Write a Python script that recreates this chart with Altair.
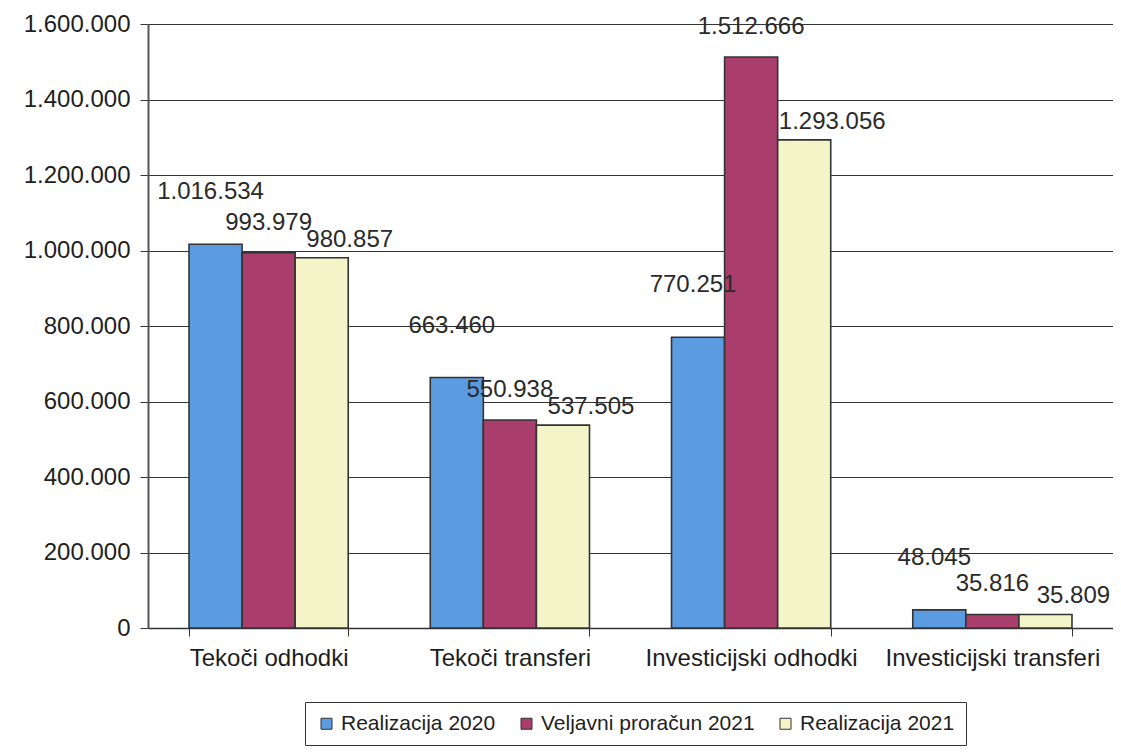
import altair as alt
import pandas as pd

categories = ["Tekoči odhodki", "Tekoči transferi", "Investicijski odhodki", "Investicijski transferi"]
series = ["Realizacija 2020", "Veljavni proračun 2021", "Realizacija 2021"]
realizacija_2020 = [1016534, 663460, 770251, 48045]
veljavni_2021 = [993979, 550938, 1512666, 35816]
realizacija_2021 = [980857, 537505, 1293056, 35809]
y_ticks = [0, 200000, 400000, 600000, 800000, 1000000, 1200000, 1400000, 1600000]

rows = []
for i, c in enumerate(categories):
    for s, vals in zip(series, [realizacija_2020, veljavni_2021, realizacija_2021]):
        rows.append({"kategorija": c, "serija": s, "vrednost": vals[i]})
df = pd.DataFrame(rows)

colors = ["#5b9be0", "#a93d6b", "#f4f4c9"]
FONT = "Liberation Sans"
TXT = "#1e1e1e"
fmt_axis = "replace(replace(format(datum.value, ','), ',', '.'), ',', '.')"
fmt_lbl = "replace(replace(format(datum.vrednost, ','), ',', '.'), ',', '.')"

x_enc = alt.X(
    "kategorija:N", sort=categories, title=None,
    scale=alt.Scale(paddingInner=0.34, paddingOuter=0.17),
    axis=alt.Axis(labelAngle=0, labelFont=FONT, labelFontSize=24, labelColor=TXT,
                  labelPadding=10, tickBand="extent", tickSize=8, tickColor="#333333",
                  domainColor="#333333", domainWidth=1.5, grid=False, labelLimit=400,
                  labelOverlap=False),
)
xoff_enc = alt.XOffset("serija:N", sort=series,
                       scale=alt.Scale(domain=series, paddingInner=0, paddingOuter=0))
y_enc = alt.Y(
    "vrednost:Q", title=None,
    scale=alt.Scale(domain=[0, 1600000]),
    axis=alt.Axis(values=y_ticks, labelExpr=fmt_axis, labelFont=FONT, labelFontSize=24,
                  labelColor=TXT, labelPadding=10, tickSize=8, tickColor="#333333",
                  domainColor="#555555", domainWidth=2, gridColor="#333333", gridWidth=1),
)

bars = alt.Chart(df).mark_bar(stroke="#333333", strokeWidth=1.6).encode(
    x=x_enc,
    xOffset=xoff_enc,
    y=y_enc,
    color=alt.Color(
        "serija:N", title=None,
        scale=alt.Scale(domain=series, range=colors),
        legend=alt.Legend(
            orient="none", legendX=157, legendY=678, direction="horizontal",
            strokeColor="#333333", padding=11, fillColor="#ffffff",
            symbolType="square", symbolSize=121, symbolStrokeColor="#333333",
            symbolStrokeWidth=1, labelFont=FONT, labelFontSize=21, labelColor=TXT,
            labelLimit=400, columnPadding=20, labelOffset=4,
        ),
    ),
)

offsets = {
    "Realizacija 2020": (-5, -52),
    "Veljavni proračun 2021": (0, -30),
    "Realizacija 2021": (28, -18),
}

texts = []
for s in series:
    dx, dy = offsets[s]
    t = alt.Chart(df).transform_filter(
        alt.datum.serija == s
    ).transform_calculate(
        label=fmt_lbl
    ).mark_text(
        dx=dx, dy=dy, baseline="middle", align="center",
        font=FONT, fontSize=24, color="#2a2a2a",
    ).encode(
        x=x_enc, xOffset=xoff_enc, y=y_enc, text="label:N",
    )
    texts.append(t)

chart = alt.layer(bars, *texts).properties(
    width=965, height=604,
    autosize=alt.AutoSizeParams(type="none"),
    padding={"left": 140, "top": 16, "right": 0, "bottom": 119},
).configure_view(
    fill="#d5d5d3", stroke=None,
).configure(
    background="#ffffff",
)

chart.save("out.html", embed_options={"renderer": "svg", "actions": False})
